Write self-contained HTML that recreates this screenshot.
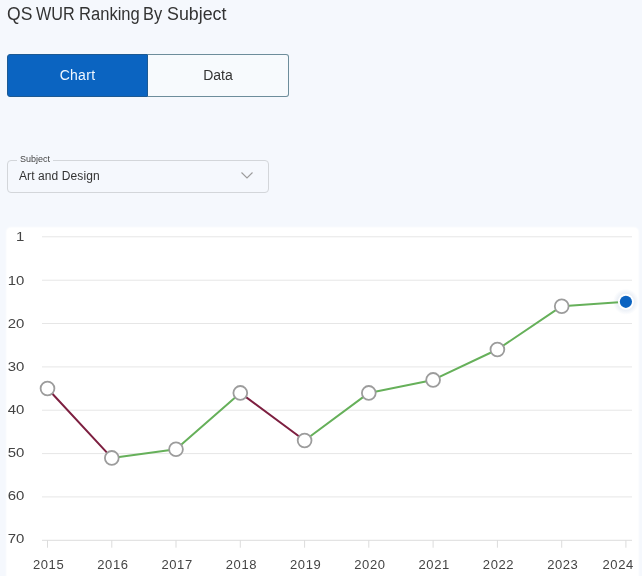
<!DOCTYPE html>
<html>
<head>
<meta charset="utf-8">
<style>
html,body{margin:0;padding:0;}
body{width:642px;height:576px;overflow:hidden;background:#f5f8fd;position:relative;font-family:"Liberation Sans",sans-serif;color:#333;}
.title{position:absolute;left:0;top:4px;width:260px;height:20px;font-size:18px;line-height:20px;color:#333;white-space:nowrap;}
.title span{position:absolute;top:0;transform-origin:0 0;}
.seg{position:absolute;left:7px;top:54px;width:282px;height:43px;}
.seg .chart{position:absolute;left:0;top:0;width:139px;letter-spacing:0.3px;height:41px;background:#0b64c1;border:1px solid #1d5a93;border-right:1px solid #1d5a93;border-radius:3px 0 0 3px;color:#f2f8ff;font-size:14px;line-height:41px;text-align:center;}
.seg .data{position:absolute;left:141px;top:0;width:140px;height:41px;background:#f7fafd;border:1px solid #6d8d9b;border-left:none;border-radius:0 3px 3px 0;color:#333;font-size:14px;line-height:41px;text-align:center;}
.dd{position:absolute;left:7px;top:160px;width:260px;height:31px;border:1px solid #d3d6da;border-radius:4px;}
.dd .lbl{position:absolute;left:9px;top:-7px;padding:0 3px;background:#f5f8fd;font-size:9px;line-height:10px;color:#444;}
.dd .val{position:absolute;left:11px;top:8px;font-size:12px;letter-spacing:0.1px;line-height:14px;color:#333;}
.dd svg{position:absolute;left:232px;top:10.4px;}
.panel{position:absolute;left:7px;top:228px;width:631px;height:360px;background:#fff;border-radius:4px 4px 0 0;box-shadow:0 0 2px 1px rgba(255,255,255,0.9);}
svg.ch{position:absolute;left:0;top:0;}
</style>
</head>
<body>
<div class="title"><span style="left:6.9px;transform:scaleX(0.975)">QS</span> <span style="left:36px;transform:scaleX(0.9)">WUR</span> <span style="left:78.5px;transform:scaleX(0.92)">Ranking</span> <span style="left:143.3px;transform:scaleX(0.91)">By</span> <span style="left:166.6px;transform:scaleX(0.99)">Subject</span></div>
<div class="seg">
  <div class="chart">Chart</div>
  <div class="data">Data</div>
</div>
<div class="dd">
  <div class="lbl">Subject</div>
  <div class="val">Art and Design</div>
  <svg width="14" height="8" viewBox="0 0 14 8"><path d="M1.5 1.5 L7 7 L12.5 1.5" fill="none" stroke="#9c9c9c" stroke-width="1.1"/></svg>
</div>
<div class="panel"></div>
<svg class="ch" width="642" height="576" viewBox="0 0 642 576" font-family="Liberation Sans, sans-serif">
  <g fill="#e6e6e6">
    <rect x="42" y="236.3" width="590" height="1"/>
    <rect x="42" y="279.7" width="590" height="1"/>
    <rect x="42" y="323.0" width="590" height="1"/>
    <rect x="42" y="366.4" width="590" height="1"/>
    <rect x="42" y="409.7" width="590" height="1"/>
    <rect x="42" y="453.1" width="590" height="1"/>
    <rect x="42" y="496.4" width="590" height="1"/>
  </g>
  <rect x="42" y="539.8" width="590" height="1" fill="#dcdcdc"/>
  <g fill="#dcdcdc">
    <rect x="47.0" y="540.2" width="1" height="7.5"/>
    <rect x="111.3" y="540.2" width="1" height="7.5"/>
    <rect x="175.5" y="540.2" width="1" height="7.5"/>
    <rect x="239.8" y="540.2" width="1" height="7.5"/>
    <rect x="304.1" y="540.2" width="1" height="7.5"/>
    <rect x="368.3" y="540.2" width="1" height="7.5"/>
    <rect x="432.6" y="540.2" width="1" height="7.5"/>
    <rect x="496.9" y="540.2" width="1" height="7.5"/>
    <rect x="561.2" y="540.2" width="1" height="7.5"/>
    <rect x="625.4" y="540.2" width="1" height="7.5"/>
  </g>
  <g font-size="13" fill="#444" text-anchor="end">
    <text transform="translate(24.4 241.4) scale(1.15 1)">1</text>
    <text transform="translate(24.4 284.5) scale(1.15 1)">10</text>
    <text transform="translate(24.4 327.7) scale(1.15 1)">20</text>
    <text transform="translate(24.4 370.8) scale(1.15 1)">30</text>
    <text transform="translate(24.4 414.0) scale(1.15 1)">40</text>
    <text transform="translate(24.4 457.1) scale(1.15 1)">50</text>
    <text transform="translate(24.4 500.2) scale(1.15 1)">60</text>
    <text transform="translate(24.4 543.4) scale(1.15 1)">70</text>
  </g>
  <g font-size="13" fill="#444" text-anchor="middle" letter-spacing="0.6">
    <text x="48.6" y="568.6">2015</text>
    <text x="112.9" y="568.6">2016</text>
    <text x="177.1" y="568.6">2017</text>
    <text x="241.4" y="568.6">2018</text>
    <text x="305.7" y="568.6">2019</text>
    <text x="369.9" y="568.6">2020</text>
    <text x="434.2" y="568.6">2021</text>
    <text x="498.5" y="568.6">2022</text>
    <text x="562.8" y="568.6">2023</text>
    <text x="633.8" y="568.6" text-anchor="end">2024</text>
  </g>
  <defs><radialGradient id="hg"><stop offset="0.55" stop-color="#e4eaf3" stop-opacity="0.9"/><stop offset="1" stop-color="#e4eaf3" stop-opacity="0"/></radialGradient></defs>
  <circle cx="625.9" cy="301.8" r="13" fill="url(#hg)"/>
  <g fill="none" stroke-width="2" stroke-linejoin="round" stroke-linecap="round">
    <path d="M47.5 388.5 L111.8 457.9" stroke="#7d1f40"/>
    <path d="M111.8 457.9 L176.0 449.2" stroke="#66b05a"/>
    <path d="M176.0 449.2 L240.3 392.9" stroke="#66b05a"/>
    <path d="M240.3 392.9 L304.6 440.5" stroke="#7d1f40"/>
    <path d="M304.6 440.5 L368.8 392.9" stroke="#66b05a"/>
    <path d="M368.8 392.9 L433.1 379.9" stroke="#66b05a"/>
    <path d="M433.1 379.9 L497.4 349.5" stroke="#66b05a"/>
    <path d="M497.4 349.5 L561.7 306.2" stroke="#66b05a"/>
    <path d="M561.7 306.2 L625.9 301.8" stroke="#66b05a"/>
  </g>
  <g fill="#fff" stroke="#9c9c9c" stroke-width="1.8">
    <circle cx="47.5" cy="388.5" r="6.9"/>
    <circle cx="111.8" cy="457.9" r="6.9"/>
    <circle cx="176.0" cy="449.2" r="6.9"/>
    <circle cx="240.3" cy="392.9" r="6.9"/>
    <circle cx="304.6" cy="440.5" r="6.9"/>
    <circle cx="368.8" cy="392.9" r="6.9"/>
    <circle cx="433.1" cy="379.9" r="6.9"/>
    <circle cx="497.4" cy="349.5" r="6.9"/>
    <circle cx="561.7" cy="306.2" r="6.9"/>
  </g>
  <circle cx="625.9" cy="301.8" r="8" fill="#fff"/>
  <circle cx="625.9" cy="301.8" r="6.1" fill="#0b63c1"/>
</svg>
</body>
</html>
